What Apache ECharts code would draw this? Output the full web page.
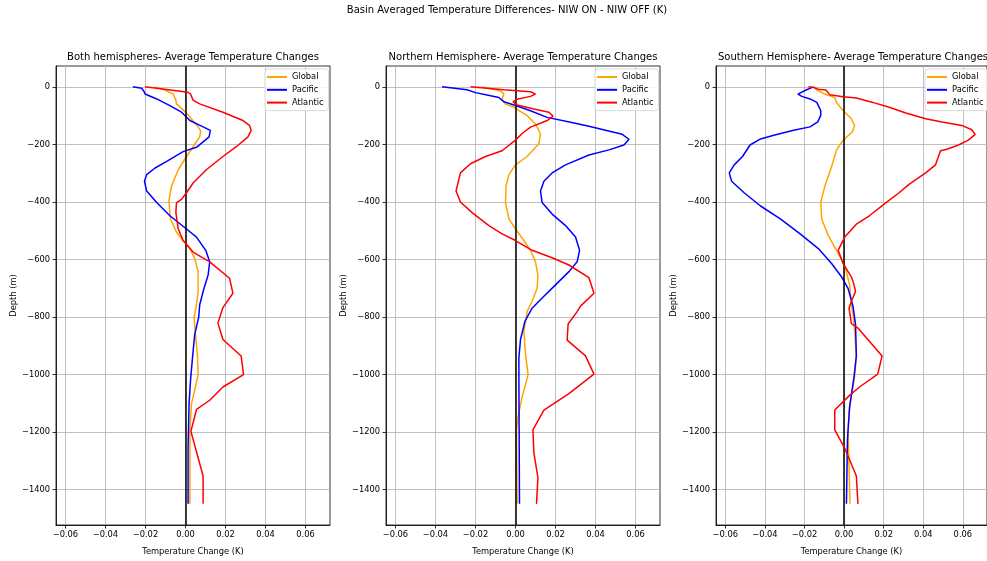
<!DOCTYPE html>
<html><head><meta charset="utf-8">
<script src="https://cdn.jsdelivr.net/npm/echarts@6/dist/echarts.min.js"></script>
<style>html,body{margin:0;padding:0;background:#fff}#c{width:987px;height:561px}</style>
</head><body><div id="c"></div><script>
const mainTitle = 'Basin Averaged Temperature Differences- NIW ON - NIW OFF (K)';
const panelTitles = ['Both hemispheres- Average Temperature Changes','Northern Hemisphere- Average Temperature Changes','Southern Hemisphere- Average Temperature Changes'];
const seriesNames = ['Global','Pacific','Atlantic'];
const xTicks = [-0.06,-0.04,-0.02,0,0.02,0.04,0.06];
const yTicks = [0,-200,-400,-600,-800,-1000,-1200,-1400];

// [temperature change (K), depth (m)]
const bothGlobal = [[-0.0152,0],[-0.0103,-11],[-0.0061,-25],[-0.0048,-46],[-0.0045,-59],[-0.0012,-80],[0.0022,-105],[0.0063,-139],[0.0076,-153],[0.0071,-174],[0.0038,-208],[0.0005,-242],[-0.0036,-288],[-0.0070,-345],[-0.0083,-397],[-0.0075,-459],[-0.0045,-505],[-0.0012,-534],[0.0022,-562],[0.0046,-597],[0.0063,-642],[0.0063,-711],[0.0055,-757],[0.0043,-800],[0.0050,-861],[0.0060,-935],[0.0063,-1000],[0.0046,-1055],[0.0030,-1100],[0.0022,-1191],[0.0022,-1449]];
const bothPacific = [[-0.0263,0],[-0.0219,-5],[-0.0207,-16],[-0.0202,-25],[-0.0144,-42],[-0.0078,-65],[-0.0020,-88],[0.0022,-117],[0.0088,-139],[0.0124,-151],[0.0118,-174],[0.0055,-210],[-0.0012,-225],[-0.0094,-259],[-0.0152,-282],[-0.0194,-305],[-0.0205,-328],[-0.0194,-362],[-0.0144,-402],[-0.0078,-448],[0.0005,-494],[0.0055,-522],[0.0101,-568],[0.0121,-608],[0.0113,-654],[0.0088,-711],[0.0071,-757],[0.0066,-800],[0.0046,-861],[0.0035,-941],[0.0025,-1021],[0.0018,-1100],[0.0013,-1249],[0.0013,-1449]];
const bothAtlantic = [[-0.0202,0],[0.0013,-19],[0.0025,-25],[0.0038,-46],[0.0071,-59],[0.0187,-88],[0.0287,-117],[0.0320,-134],[0.0328,-151],[0.0312,-174],[0.0254,-208],[0.0187,-242],[0.0104,-288],[0.0038,-334],[0.0005,-368],[-0.0020,-391],[-0.0045,-402],[-0.0048,-437],[-0.0036,-494],[-0.0012,-534],[0.0038,-574],[0.0121,-608],[0.0220,-665],[0.0237,-717],[0.0187,-767],[0.0162,-821],[0.0187,-878],[0.0278,-935],[0.0290,-1000],[0.0187,-1043],[0.0121,-1089],[0.0055,-1121],[0.0027,-1197],[0.0088,-1352],[0.0088,-1449]];

const northGlobal = [[-0.0167,0],[-0.0075,-14],[-0.0058,-25],[-0.0067,-43],[-0.0050,-60],[-0.0008,-71],[0.0058,-100],[0.0100,-129],[0.0125,-163],[0.0117,-198],[0.0058,-242],[0.0000,-271],[-0.0033,-305],[-0.0047,-345],[-0.0050,-402],[-0.0033,-459],[0.0000,-494],[0.0042,-534],[0.0075,-568],[0.0100,-608],[0.0112,-654],[0.0108,-700],[0.0083,-745],[0.0058,-781],[0.0042,-849],[0.0050,-929],[0.0063,-1000],[0.0033,-1078],[0.0013,-1146],[0.0005,-1191],[0.0008,-1449]];
const northPacific = [[-0.0367,0],[-0.0242,-10],[-0.0200,-20],[-0.0142,-28],[-0.0083,-37],[-0.0058,-52],[0.0000,-65],[0.0075,-83],[0.0158,-106],[0.0275,-123],[0.0367,-137],[0.0450,-151],[0.0533,-165],[0.0567,-182],[0.0542,-202],[0.0467,-219],[0.0367,-237],[0.0250,-271],[0.0183,-299],[0.0142,-328],[0.0125,-362],[0.0133,-402],[0.0183,-442],[0.0250,-482],[0.0300,-522],[0.0320,-568],[0.0308,-608],[0.0267,-642],[0.0200,-688],[0.0133,-734],[0.0083,-769],[0.0047,-815],[0.0025,-878],[0.0017,-941],[0.0017,-1021],[0.0020,-1449]];
const northAtlantic = [[-0.0225,0],[-0.0058,-10],[0.0075,-17],[0.0100,-25],[0.0075,-33],[0.0008,-43],[-0.0012,-52],[0.0008,-63],[0.0092,-77],[0.0167,-88],[0.0188,-102],[0.0158,-117],[0.0075,-140],[0.0033,-162],[0.0000,-185],[-0.0067,-222],[-0.0150,-242],[-0.0225,-267],[-0.0275,-299],[-0.0297,-362],[-0.0275,-400],[-0.0217,-437],[-0.0133,-482],[-0.0067,-511],[0.0000,-534],[0.0083,-568],[0.0183,-594],[0.0267,-619],[0.0367,-663],[0.0392,-717],[0.0325,-762],[0.0308,-781],[0.0263,-824],[0.0258,-880],[0.0350,-935],[0.0392,-998],[0.0267,-1066],[0.0142,-1123],[0.0087,-1192],[0.0092,-1272],[0.0112,-1358],[0.0105,-1449]];

const southGlobal = [[-0.0155,0],[-0.0138,-11],[-0.0097,-25],[-0.0047,-37],[-0.0038,-54],[-0.0005,-82],[0.0037,-111],[0.0053,-134],[0.0042,-157],[-0.0005,-185],[-0.0038,-219],[-0.0063,-277],[-0.0097,-345],[-0.0118,-402],[-0.0113,-459],[-0.0080,-517],[-0.0038,-568],[0.0003,-620],[0.0028,-688],[0.0037,-757],[0.0048,-800],[0.0062,-935],[0.0053,-1009],[0.0028,-1112],[0.0020,-1191],[0.0030,-1449]];
const southPacific = [[-0.0155,0],[-0.0192,-11],[-0.0233,-25],[-0.0213,-33],[-0.0172,-42],[-0.0138,-54],[-0.0118,-82],[-0.0118,-99],[-0.0133,-122],[-0.0172,-139],[-0.0255,-151],[-0.0355,-168],[-0.0422,-181],[-0.0475,-202],[-0.0513,-242],[-0.0555,-271],[-0.0580,-299],[-0.0568,-328],[-0.0505,-368],[-0.0422,-414],[-0.0322,-459],[-0.0222,-511],[-0.0130,-562],[-0.0063,-614],[-0.0013,-660],[0.0020,-700],[0.0045,-762],[0.0058,-826],[0.0062,-935],[0.0050,-1009],[0.0028,-1112],[0.0017,-1226],[0.0012,-1449]];
const southAtlantic = [[-0.0180,0],[-0.0152,-2],[-0.0130,-8],[-0.0092,-11],[-0.0072,-27],[-0.0005,-34],[0.0062,-39],[0.0145,-54],[0.0228,-71],[0.0312,-91],[0.0412,-111],[0.0495,-122],[0.0595,-134],[0.0645,-149],[0.0662,-165],[0.0628,-185],[0.0578,-202],[0.0520,-217],[0.0487,-222],[0.0462,-271],[0.0412,-299],[0.0328,-339],[0.0278,-368],[0.0212,-402],[0.0128,-448],[0.0062,-477],[0.0003,-522],[-0.0030,-568],[-0.0005,-614],[0.0037,-660],[0.0048,-682],[0.0058,-711],[0.0037,-745],[0.0025,-769],[0.0037,-823],[0.0070,-838],[0.0192,-935],[0.0170,-998],[0.0078,-1043],[0.0028,-1072],[-0.0047,-1123],[-0.0047,-1192],[0.0003,-1255],[0.0062,-1352],[0.0070,-1449]];

const panelData = [
  [bothGlobal, bothPacific, bothAtlantic],
  [northGlobal, northPacific, northAtlantic],
  [southGlobal, southPacific, southAtlantic]
];
const colors = ['#FFA500','#0000FF','#FF0000'];

const FONT = 'DejaVu Sans';
const gridLefts = [56, 386, 716];
const gridW = 274, gridTop = 66, gridH = 463;
const SMALL = 8.3, LARGE = 10;
const minus = '\u2212';
function fmtX(v){ if (Math.abs(v) < 1e-9) return '0.00'; return (v<0?minus:'') + Math.abs(v).toFixed(2); }
function fmtY(v){ const r = Math.round(v); return r < 0 ? minus + Math.abs(r) : String(r); }

const grid = [], xAxis = [], yAxis = [], series = [], legend = [];
const title = [{text: mainTitle, left: 502, textAlign:'center', top: 0, textStyle:{fontFamily:FONT, fontSize:LARGE, fontWeight:'normal', color:'#000'}}];
for (let i=0;i<3;i++){
  grid.push({left: gridLefts[i], top: gridTop, width: gridW, height: gridH, show: true, borderColor:'#000', borderWidth:0.8, backgroundColor:'transparent'});
  title.push({text: panelTitles[i], left: gridLefts[i] + 137 - 5, textAlign:'center', top: 47, textStyle:{fontFamily:FONT, fontSize:LARGE, fontWeight:'normal', color:'#000'}});
  xAxis.push({gridIndex:i, type:'value', min:-0.0647, max:0.0722,
    name:'Temperature Change (K)', nameLocation:'middle', nameGap:23, nameTextStyle:{fontFamily:FONT, fontSize:SMALL, color:'#000'},
    axisLine:{show:true, onZero:false, lineStyle:{color:'#000', width:0.8}},
    axisTick:{show:true, customValues:xTicks, length:3.5, lineStyle:{color:'#000', width:0.8}},
    axisLabel:{customValues:xTicks, formatter:fmtX, fontFamily:FONT, fontSize:SMALL, color:'#000', margin:6},
    splitLine:{show:true, lineStyle:{color:'#b0b0b0', width:0.8}}});
  yAxis.push({gridIndex:i, type:'value', min:-1522.5, max:72.5,
    name:'Depth (m)', nameLocation:'middle', nameGap:33, nameRotate:90, nameTextStyle:{fontFamily:FONT, fontSize:SMALL, color:'#000'},
    axisLine:{show:true, onZero:false, lineStyle:{color:'#000', width:0.8}},
    axisTick:{show:true, customValues:yTicks, length:3.5, lineStyle:{color:'#000', width:0.8}},
    axisLabel:{customValues:yTicks, formatter:fmtY, fontFamily:FONT, fontSize:SMALL, color:'#000', margin:6},
    splitLine:{show:true, lineStyle:{color:'#b0b0b0', width:0.8}}});
  for (let s=0;s<3;s++){
    const ser = {type:'line', name: seriesNames[s], xAxisIndex:i, yAxisIndex:i, data: panelData[i][s],
      symbol:'none', showSymbol:false, smooth:false, lineStyle:{color:colors[s], width:1.5}, itemStyle:{color:colors[s]}, z: 3+s};
    if (s===0) ser.markLine = {silent:true, symbol:'none', label:{show:false}, animation:false,
      lineStyle:{color:'#000', width:1.5, type:'solid'}, data:[{xAxis:0}]};
    series.push(ser);
  }
  legend.push({left: gridLefts[i] + 209, top: 69, orient:'vertical', data: seriesNames, icon:'rect', itemWidth:20, itemHeight:2,
    itemGap:0.8, padding:[2,5,2,2], borderColor:'#d0d0d0', borderWidth:0.8, borderRadius:3, backgroundColor:'rgba(255,255,255,0.8)',
    textStyle:{fontFamily:FONT, fontSize:SMALL, color:'#000', lineHeight:12}, selectedMode:false});
}
const chart = echarts.init(document.getElementById('c'), null, {renderer:'canvas'});
chart.setOption({animation:false, backgroundColor:'#fff', title, grid, xAxis, yAxis, series, legend});
</script></body></html>
